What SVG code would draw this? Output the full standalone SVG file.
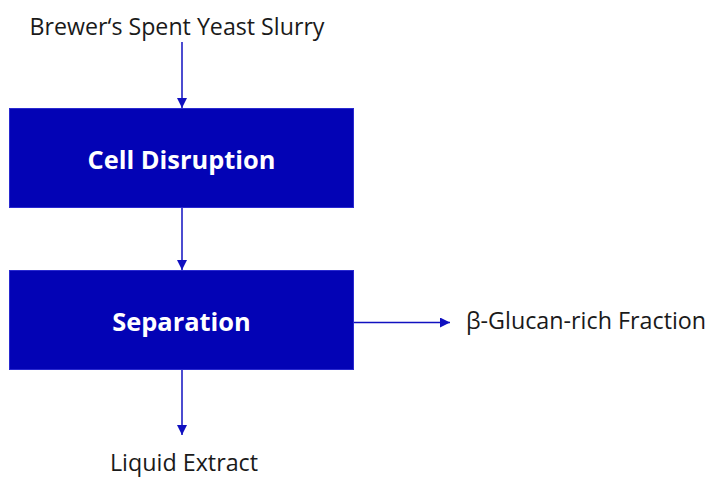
<svg xmlns="http://www.w3.org/2000/svg" width="710" height="478" viewBox="0 0 710 478">
<style>
.box{fill:#0303B5;stroke:#2a2ad0;stroke-width:1}
.lbl{font-family:"Open Sans","Liberation Sans",sans-serif;font-size:23.3px;fill:#1a1a1a}
.blbl{font-family:"Open Sans","Liberation Sans",sans-serif;font-size:25.4px;font-weight:bold;fill:#ffffff;text-anchor:middle}
.conn{stroke:#1010C0;stroke-width:1.5;fill:none}
</style>
<defs>
<marker id="ah" markerWidth="10" markerHeight="10" refX="10" refY="5" orient="auto" markerUnits="userSpaceOnUse">
<path d="M0,0 L10,5 L0,10 Z" fill="#1010C0"/>
</marker>
</defs>
<rect width="710" height="478" fill="#ffffff"/>
<g id="input"><text class="lbl" x="177" y="35" text-anchor="middle" textLength="295" lengthAdjust="spacingAndGlyphs">Brewer‘s Spent Yeast Slurry</text></g>
<g id="cell-disruption"><rect class="box" x="9.5" y="108.5" width="344" height="99"/><text class="blbl" x="181.5" y="169">Cell Disruption</text></g>
<g id="separation"><rect class="box" x="9.5" y="270.5" width="344" height="99"/><text class="blbl" x="181.5" y="331">Separation</text></g>
<g id="glucan"><text class="lbl" x="466" y="329">β-Glucan-rich Fraction</text></g>
<g id="liquid"><text class="lbl" x="184" y="471" text-anchor="middle">Liquid Extract</text></g>
<g id="connectors">
<line class="conn" x1="182" y1="42" x2="182" y2="108" marker-end="url(#ah)"/>
<line class="conn" x1="182" y1="208" x2="182" y2="270" marker-end="url(#ah)"/>
<line class="conn" x1="354" y1="322.5" x2="450" y2="322.5" marker-end="url(#ah)"/>
<line class="conn" x1="182" y1="370" x2="182" y2="435" marker-end="url(#ah)"/>
</g>
</svg>
